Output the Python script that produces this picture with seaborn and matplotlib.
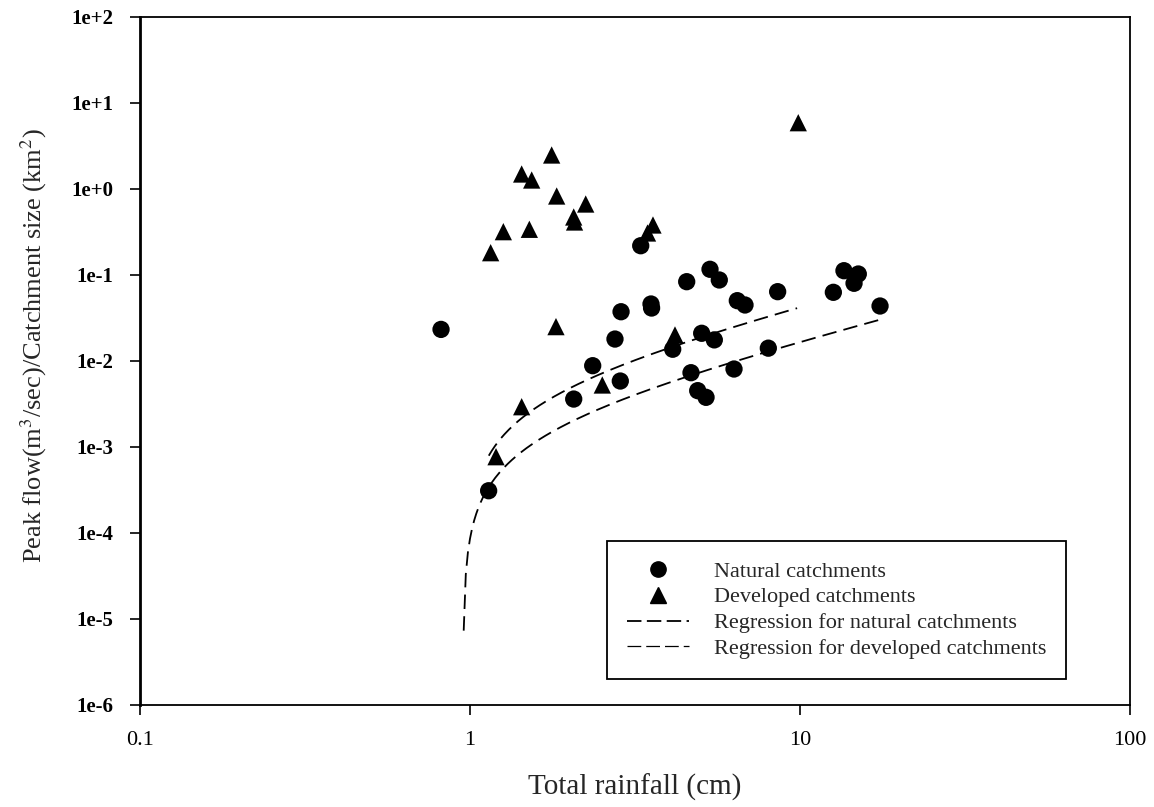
import numpy as np
import pandas as pd
import matplotlib
matplotlib.use("Agg")
import matplotlib.pyplot as plt
from matplotlib.lines import Line2D
from matplotlib.ticker import FixedLocator, FixedFormatter, NullLocator
import seaborn as sns

# Natural catchments: total rainfall (cm) and peak flow per unit area
natural_rain = [0.817, 1.139, 2.062, 2.354, 2.750, 2.854, 2.869, 3.536, 3.550, 3.291,
                4.536, 5.337, 5.694, 4.114, 5.036, 5.500, 4.674, 4.898, 5.191, 6.310,
                6.457, 6.813, 8.556, 8.017, 12.62, 13.59, 15.02, 14.58, 17.48]
natural_flow = [0.0233, 0.00031, 0.00361, 0.00882, 0.0180, 0.00585, 0.0374, 0.0460, 0.0413, 0.219,
                0.0836, 0.1165, 0.0875, 0.0137, 0.0210, 0.0176, 0.00731, 0.00452, 0.00378, 0.00807,
                0.0503, 0.0448, 0.0640, 0.0141, 0.0629, 0.1122, 0.1027, 0.0801, 0.0436]

# Developed catchments
developed_rain = [1.155, 1.262, 1.513, 1.434, 1.538, 1.768, 1.831, 2.242, 2.062, 2.074,
                  3.585, 3.451, 1.822, 2.517, 1.434, 1.199, 4.180, 9.880]
developed_flow = [0.1817, 0.319, 0.340, 1.494, 1.272, 2.485, 0.829, 0.669, 0.4725, 0.4134,
                  0.3815, 0.308, 0.0251, 0.00526, 0.00294, 0.000771, 0.0201, 5.90]

# Linear regressions  q = slope * (P - p0), drawn over each group's rainfall range
natural_fit = {"slope": 0.00183, "p0": 0.953, "start": 0.957, "end": 17.5}
developed_fit = {"slope": 0.00466, "p0": 0.970, "start": 1.14, "end": 9.8}

x_ticks = [0.1, 1, 10, 100]
x_tick_labels = ["0.1", "1", "10", "100"]
y_ticks = [1e-6, 1e-5, 1e-4, 1e-3, 1e-2, 1e-1, 1e0, 1e1, 1e2]
y_tick_labels = ["1e-6", "1e-5", "1e-4", "1e-3", "1e-2", "1e-1", "1e+0", "1e+1", "1e+2"]

legend_labels = ["Natural catchments", "Developed catchments",
                 "Regression for natural catchments", "Regression for developed catchments"]

sns.set_style("ticks")
plt.rcParams["font.family"] = ["Liberation Serif", "DejaVu Serif"]
plt.rcParams["mathtext.fontset"] = "stix"

df = pd.DataFrame({
    "rain": natural_rain + developed_rain,
    "flow": natural_flow + developed_flow,
    "group": ["Natural"] * len(natural_rain) + ["Developed"] * len(developed_rain),
})

fig = plt.figure(figsize=(11.54, 8.07), dpi=100)
ax = fig.add_axes([140 / 1154, 1 - 705 / 807, 990 / 1154, 688 / 807])

sns.scatterplot(data=df, x="rain", y="flow", style="group",
                markers={"Natural": "o", "Developed": "^"},
                color="black", edgecolor="black", linewidth=0, s=155,
                legend=False, ax=ax, zorder=3)


def fit_frame(fit, n=200):
    p = np.geomspace(fit["start"], fit["end"], n)
    return pd.DataFrame({"rain": p, "flow": fit["slope"] * (p - fit["p0"])})


nat_line = fit_frame(natural_fit)
dev_line = fit_frame(developed_fit)
sns.lineplot(data=nat_line, x="rain", y="flow", color="black", lw=1.3,
             linestyle=(0, (8, 4)), sort=False, estimator=None, ax=ax)
sns.lineplot(data=dev_line, x="rain", y="flow", color="black", lw=1.3,
             linestyle=(0, (8, 4)), sort=False, estimator=None, ax=ax)

ax.set_xscale("log")
ax.set_yscale("log")
ax.set_xlim(0.1, 100)
ax.set_ylim(1e-6, 1e2)

ax.xaxis.set_major_locator(FixedLocator(x_ticks))
ax.xaxis.set_major_formatter(FixedFormatter(x_tick_labels))
ax.yaxis.set_major_locator(FixedLocator(y_ticks))
ax.yaxis.set_major_formatter(FixedFormatter(y_tick_labels))
ax.xaxis.set_minor_locator(NullLocator())
ax.yaxis.set_minor_locator(NullLocator())

ax.tick_params(axis="both", which="major", direction="out", length=7, width=1.2,
               color="black", labelcolor="black")
ax.tick_params(axis="x", pad=12, labelsize=16)
ax.tick_params(axis="y", pad=12, labelsize=15)
for lab in ax.get_yticklabels():
    lab.set_fontweight("bold")

for side in ["left", "right", "top", "bottom"]:
    ax.spines[side].set_visible(True)
    ax.spines[side].set_color("black")
    ax.spines[side].set_linewidth(1.3)
ax.spines["left"].set_linewidth(2.0)

ax.set_xlabel("Total rainfall (cm)", fontsize=21)
ax.set_ylabel(r"Peak flow(m$^3$/sec)/Catchment size (km$^2$)", fontsize=19)
ax.xaxis.set_label_coords(0.5, -0.100)
ax.yaxis.set_label_coords(-0.092, 0.522)
ax.grid(False)

handles = [
    Line2D([], [], linestyle="none", marker="o", color="black", markersize=11),
    Line2D([], [], linestyle="none", marker="^", color="black", markersize=11),
    Line2D([], [], color="black", lw=1.3, linestyle=(0, (8, 3))),
    Line2D([], [], color="black", lw=0.9, linestyle=(0, (11, 4))),
]
leg = ax.legend(handles, legend_labels, loc="upper left",
                bbox_to_anchor=(0.4717, 0.2384), borderaxespad=0,
                fontsize=16, frameon=True, fancybox=False, framealpha=1,
                edgecolor="black", handlelength=2.8, handletextpad=1.1,
                labelspacing=0.24, borderpad=0.9)
leg.get_frame().set_linewidth(1.3)

fig.savefig("out.png", dpi=100)
